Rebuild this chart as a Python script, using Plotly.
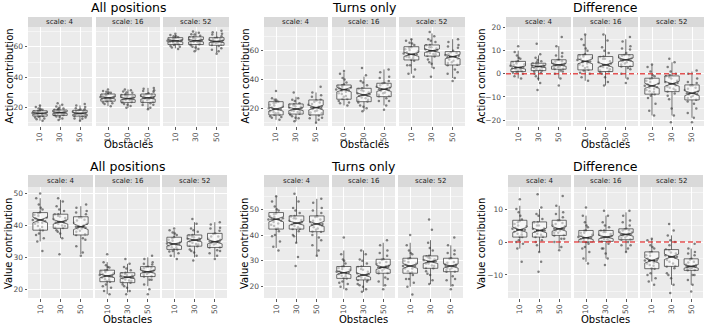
import plotly.graph_objects as go

# ---------------- data ----------------
obstacles = ["10", "30", "50"]
scale_labels = ["scale: 4", "scale: 16", "scale: 52"]
panel_titles = ["All positions", "Turns only", "Difference",
                "All positions", "Turns only", "Difference"]
y_titles = ["Action contribution"] * 3 + ["Value contribution"] * 3
x_title = "Obstacles"
n_runs = 100  # observations per box (for notch width)

# order of 9 boxes: scale 4 (10,30,50), scale 16 (10,30,50), scale 52 (10,30,50)
act_all_lo  = [11.5, 12, 11.5, 21, 20, 19, 59, 57, 56]
act_all_q1  = [14.5, 15, 14.5, 24.3, 23.5, 23.5, 61.5, 61.5, 61]
act_all_med = [16.3, 16.8, 16.3, 26.5, 26, 26.5, 63.9, 64, 63.5]
act_all_q3  = [18, 18.5, 18.3, 29, 28.5, 29, 66, 66.5, 66]
act_all_hi  = [21.5, 22, 21.5, 31, 32, 33, 68, 70, 70]

act_turn_lo  = [12, 11, 10, 22, 18, 22, 44, 48, 41]
act_turn_q1  = [15.4, 16, 15.4, 26.3, 24.6, 28.1, 53.6, 56.3, 50.1]
act_turn_med = [19.5, 19.5, 20.5, 33, 29.3, 33.2, 57.5, 60, 55.9]
act_turn_q3  = [24.6, 23, 25.8, 36.2, 33.9, 37.4, 62.8, 64, 59.4]
act_turn_hi  = [27, 28, 31, 45, 42, 47, 68, 72, 68]

act_diff_lo  = [-2, -3, -2, -3, -5, -2, -18, -18, -19]
act_diff_q1  = [1.0, 1.4, 2.0, 1.7, 1.0, 3.2, -8.8, -7.7, -11.3]
act_diff_med = [2.75, 3.2, 3.9, 5.4, 3.9, 6.1, -5.2, -4.3, -8.4]
act_diff_q3  = [5.4, 4.6, 6.1, 8.3, 7.5, 8.3, -1.9, -0.9, -4.8]
act_diff_hi  = [10, 8, 12, 17, 17, 15, 4, 5, 1]

val_all_lo  = [35, 36, 31, 18.5, 19, 21, 30, 30, 30]
val_all_q1  = [38.5, 39.1, 37, 22.4, 22.1, 24, 32.5, 33.5, 33.1]
val_all_med = [41.7, 41.1, 39.6, 24.2, 23.8, 25.5, 34.2, 35.4, 34.9]
val_all_q3  = [44, 43.5, 42.7, 26, 25.2, 27.1, 36.3, 37, 37.5]
val_all_hi  = [48.5, 48, 46, 28.5, 28, 30, 38.5, 41, 41]

val_turn_lo  = [35, 37, 32, 19, 18, 20, 20, 21, 20]
val_turn_q1  = [42.3, 42.3, 41.3, 23.2, 22.6, 25.2, 25.2, 27.1, 25.8]
val_turn_med = [46.1, 44.6, 44.3, 25.4, 24.5, 27.5, 28, 29.7, 28]
val_turn_q3  = [48.7, 47.4, 47.4, 27.8, 27.8, 30.6, 31, 31.9, 31]
val_turn_hi  = [55, 55, 54, 34, 34, 37, 37, 38, 36]

val_diff_lo  = [-2, -3, -2, -6, -5, -3, -12, -13, -13]
val_diff_q1  = [1.5, 1.5, 2.0, 0, 0.2, 0.7, -8.1, -7.4, -8.6]
val_diff_med = [3.7, 3.5, 4.0, 1.3, 1.5, 2.3, -5.6, -4.5, -7.4]
val_diff_q3  = [6.6, 6.1, 6.6, 3.5, 3.5, 4.0, -3, -2.3, -5.1]
val_diff_hi  = [11, 10, 11, 8, 8, 9, 1, 2, -2]

act_all_pts = [
    [11.5, 12.5, 13.5, 14, 14.8, 15.5, 16, 16.3, 16.8, 17.5, 18, 18.6, 19.5, 20.5, 21.5],
    [12, 13, 14.2, 15, 15.6, 16.2, 16.8, 17.2, 17.8, 18.3, 19, 19.8, 20.8, 22, 23],
    [11.5, 12.8, 13.6, 14.4, 15, 15.8, 16.3, 16.8, 17.4, 18, 18.8, 19.6, 20.5, 21.5, 22.5],
    [21, 22.5, 23.5, 24.3, 25, 25.8, 26.5, 27, 27.6, 28.3, 29, 29.8, 30.5, 31, 32],
    [20, 21.2, 22.5, 23.5, 24.3, 25.2, 26, 26.6, 27.3, 28, 28.8, 29.8, 30.6, 31.5, 32],
    [19, 20, 21.8, 23, 24, 25, 26.5, 27, 27.8, 28.5, 29.5, 30.5, 31.5, 32.5, 33],
    [58.5, 59.5, 60.5, 61.2, 62, 62.8, 63.5, 64, 64.5, 65, 65.6, 66.2, 67, 67.8, 68.5],
    [57, 58.5, 60, 61, 62, 63, 63.8, 64.3, 65, 65.8, 66.5, 67.3, 68.3, 69.3, 70],
    [55.5, 57, 59, 60.5, 61.5, 62.5, 63.3, 64, 64.6, 65.3, 66, 67, 68, 69.5, 70.5],
]
act_all_pts_extra = [
    [14.6, 15.2, 15.8, 16.5, 17, 17.3, 17.8, 15, 13, 19],
    [15.2, 15.8, 16.5, 17, 17.5, 18, 18.6, 14, 19.5, 16],
    [14.7, 15.3, 16, 16.6, 17.2, 17.8, 18.3, 13, 19, 15.5],
    [24.5, 25.3, 26, 26.8, 27.3, 28, 28.7, 23, 30, 25.5],
    [23.7, 24.6, 25.5, 26.3, 27, 27.7, 28.4, 22, 30, 25],
    [23.6, 24.5, 25.5, 26.2, 27.2, 28, 28.8, 22, 31, 26],
    [61.6, 62.3, 63, 63.7, 64.2, 64.8, 65.5, 60, 67, 63],
    [61.7, 62.5, 63.3, 64, 64.6, 65.3, 66.2, 59.5, 68, 63.5],
    [61.2, 62, 62.8, 63.6, 64.3, 65, 65.8, 58, 68.5, 63],
]
act_turn_pts = [
    [12, 13.5, 14.5, 15.5, 16.5, 17.5, 18.8, 19.5, 20.5, 22, 23.5, 24.5, 25.5, 27, 32],
    [11, 13, 14.5, 15.5, 16.5, 17.5, 18.5, 19.5, 20.5, 21.5, 22.5, 23.5, 25, 27, 31],
    [10, 12, 13.5, 15, 16.5, 18, 19.5, 20.5, 21.5, 23, 24.5, 26, 28, 31, 35],
    [22, 23.5, 25, 26.5, 28, 30, 32, 33, 34, 35, 36.5, 38, 41, 44, 46],
    [18, 20, 22, 24, 25.5, 27, 28.5, 29.3, 30.5, 32, 34, 36, 39, 43, 48],
    [19, 22, 25, 27, 28.5, 30.5, 32, 33.2, 34.5, 36, 37.5, 39, 42, 45, 47],
    [42, 44, 47, 50, 53, 55, 56.5, 57.5, 59, 61, 62.5, 64, 65.5, 67, 68],
    [42, 48, 51, 54, 56, 57.5, 59, 60, 61, 62.5, 64, 66, 68, 70, 73],
    [39, 41, 44, 47, 50, 52, 54, 55.9, 57, 58.5, 60, 62, 64, 66, 68],
]
act_turn_pts_extra = [
    [15.6, 16.8, 18, 19.2, 20, 21, 22.5, 24, 14, 26],
    [16.2, 17.2, 18.2, 19, 20, 21, 22, 22.8, 13.5, 26],
    [15.6, 17, 18.5, 20, 21, 22.5, 24, 25.5, 13, 29],
    [26.5, 28.5, 30.5, 31.5, 32.5, 34.5, 35.5, 36, 24, 40],
    [24.8, 26, 27.5, 28.5, 29.8, 31, 32.5, 33.5, 21, 38],
    [28.3, 29.5, 31, 32.5, 33.8, 35, 36.3, 37.2, 25, 41],
    [53.8, 55.5, 56, 57, 58, 59.5, 60.5, 62, 50, 65],
    [56.5, 57.8, 58.5, 59.5, 60.5, 61.5, 62.5, 63.8, 52, 67],
    [50.3, 51.5, 53, 54.5, 55.5, 56.5, 57.5, 59, 45, 63],
]
act_diff_pts = [
    [-2, -1, 0, 0.8, 1.5, 2, 2.5, 2.8, 3.5, 4.5, 5.5, 6.5, 8, 9.5, 12],
    [-7, -4, -2, 0, 1, 1.8, 2.5, 3.2, 3.8, 4.3, 5, 6, 7, 8.5, 13],
    [-5, -2, 0, 1.5, 2.2, 3, 3.5, 3.9, 4.5, 5.3, 6, 7.5, 9, 12, 16],
    [-3, -1.5, 0, 1.5, 2.5, 3.5, 4.5, 5.4, 6.5, 7.5, 8.5, 10, 12.5, 15, 17],
    [-5, -3.5, -1.5, 0.5, 1.5, 2.5, 3.2, 3.9, 5, 6.5, 7.5, 9, 11.5, 14.5, 17],
    [-4, -2, 0, 2, 3.2, 4.5, 5.5, 6.1, 7, 8, 9, 10.5, 12, 14, 16],
    [-18, -16, -13, -10.5, -8.8, -7.5, -6, -5.2, -4.2, -3, -2, -0.5, 1, 3, 4],
    [-21, -18, -15, -11, -8.5, -7, -5.5, -4.3, -3, -1.5, -0.5, 1, 3, 5, 6.5],
    [-21, -19, -17, -15, -12, -10.5, -9.5, -8.4, -7.5, -6, -5, -3.5, -2, 0, 1.5],
]
act_diff_pts_extra = [
    [1.2, 1.8, 2.3, 3, 3.8, 4.2, 5, 5.2, 0.5, 7],
    [1.5, 2, 2.8, 3, 3.5, 4, 4.5, 0.5, 5.5, -1],
    [2.1, 2.6, 3.2, 3.7, 4.2, 4.8, 5.5, 6, 1, 8],
    [1.8, 3, 4, 5, 6, 7, 8, 8.2, 0.5, 11],
    [1.1, 2, 3, 3.5, 4.5, 5.5, 6.5, 7.3, 0, 10],
    [3.3, 4, 5, 5.8, 6.5, 7.2, 7.8, 8.2, 2.5, 11],
    [-8.6, -7.8, -7, -6.5, -5.8, -4.5, -3.5, -2.2, -9.5, -1],
    [-7.6, -6.5, -6, -5, -4, -3.5, -2, -1, -9.5, 0],
    [-11.2, -10, -9, -8.8, -8, -7, -6.5, -5, -13, -4],
]
val_all_pts = [
    [32, 35, 36, 37.5, 38.5, 39.5, 40.5, 41.7, 42.5, 43.3, 44, 45, 46.5, 48.5, 50],
    [31, 36, 37.5, 38.5, 39.3, 40, 40.8, 41.1, 42, 42.8, 43.5, 44.5, 46, 47.5, 48.5],
    [30.5, 31.5, 33.5, 35.5, 37, 38, 39, 39.6, 40.5, 41.5, 42.5, 43.5, 44.5, 45.5, 46.5],
    [18.5, 19.5, 20.5, 21.5, 22.4, 23, 23.8, 24.2, 24.8, 25.4, 26, 26.8, 27.5, 28.5, 31],
    [18.5, 19.5, 20.5, 21.5, 22.1, 22.8, 23.4, 23.8, 24.3, 24.8, 25.2, 26, 27, 28, 29.5],
    [18.5, 20, 21.5, 23, 24, 24.6, 25.2, 25.5, 26, 26.6, 27.1, 27.8, 28.5, 29.5, 30.5],
    [29.5, 30.5, 31.3, 32, 32.5, 33.2, 33.8, 34.2, 34.8, 35.5, 36.3, 37, 37.8, 38.5, 39],
    [29, 30.5, 31.5, 32.5, 33.5, 34.2, 35, 35.4, 36, 36.5, 37, 38, 39, 40.5, 42],
    [29.5, 30.5, 31.3, 32.2, 33.1, 34, 34.5, 34.9, 35.5, 36.5, 37.5, 38.3, 39.3, 40.3, 41],
]
val_all_pts_extra = [
    [38.7, 39.8, 40.8, 41.3, 42.2, 43, 43.8, 37, 45.5, 41],
    [39.2, 39.8, 40.5, 41.5, 42.3, 43, 43.4, 38, 45, 41],
    [37.2, 38.3, 39.3, 40, 40.8, 41.8, 42.5, 36, 44, 39],
    [22.5, 23.2, 23.6, 24.5, 25, 25.6, 25.9, 21, 27, 24],
    [22.2, 22.6, 23.1, 23.6, 24, 24.5, 25, 21, 26.5, 23.8],
    [24.1, 24.8, 25.3, 25.8, 26.3, 26.8, 27, 23, 28, 25.5],
    [32.6, 33, 33.5, 34, 34.6, 35.2, 36, 31.8, 37.5, 34.3],
    [33.6, 34, 34.6, 35.2, 35.8, 36.3, 36.8, 32, 38.5, 35.5],
    [33.2, 33.8, 34.3, 35, 35.8, 36.5, 37.3, 32, 39, 35],
]
val_turn_pts = [
    [34, 35.5, 37.5, 39.5, 41.5, 42.5, 44, 45, 46.1, 47, 48, 49.5, 51, 53, 55],
    [28, 31.5, 37, 39.5, 41.5, 42.3, 43.5, 44.6, 45.5, 46.5, 47.4, 48.5, 50.5, 53, 56],
    [32, 34, 36, 38, 40, 41.3, 42.5, 43.5, 44.3, 45.5, 47, 48.5, 50.5, 52.5, 54],
    [19, 20, 21, 22, 23.2, 24, 24.8, 25.4, 26, 26.8, 27.8, 29, 30.5, 32.5, 39],
    [18, 19, 20, 21, 22, 22.6, 23.5, 24.5, 25.2, 26.5, 27.8, 29, 30.5, 32.5, 34],
    [19, 20.5, 22, 23.5, 25.2, 26, 27, 27.5, 28.2, 29.3, 30.6, 32, 34, 36, 38],
    [17, 20, 21.5, 23, 24.5, 25.5, 27, 28, 29, 30, 31, 32.5, 34, 36, 40],
    [21, 22.5, 24.5, 26, 27.1, 28, 29, 29.7, 30.5, 31.3, 32, 34, 37, 42, 46],
    [19, 20.5, 22.5, 24, 25.8, 26.5, 27.2, 28, 28.8, 29.5, 31, 32.5, 34, 36, 39],
]
val_turn_pts_extra = [
    [42.4, 43.5, 44.5, 45.5, 46.5, 47.3, 48.3, 40, 50, 46],
    [42.4, 43, 44, 45, 45.8, 46.4, 47.2, 40, 49.5, 44.6],
    [41.4, 42, 43, 44, 45, 46, 47.2, 39, 49.5, 44],
    [23.3, 24.2, 25, 25.8, 26.5, 27.2, 27.7, 21.5, 30, 25.4],
    [22.7, 23.2, 24, 24.8, 25.8, 26.8, 27.6, 20.5, 30, 24.5],
    [25.3, 26.3, 27.2, 28, 28.8, 29.5, 30.4, 23, 33, 27.5],
    [25.3, 26, 27, 28, 28.5, 29.5, 30.8, 23, 33, 28],
    [27.2, 28.2, 29, 29.8, 30.3, 31, 31.8, 25, 35, 29.7],
    [25.9, 26.6, 27.3, 28, 28.6, 29.3, 30.8, 23, 33, 28],
]
val_diff_pts = [
    [-6, -2, -0.5, 0.5, 1.5, 2.3, 3, 3.7, 4.3, 5, 6, 6.8, 8, 10, 13],
    [-9, -6, -3, -1, 0.5, 1.5, 2.5, 3.5, 4, 5, 6, 7, 8.5, 10.5, 14.5],
    [-2.5, -1.5, 0, 1, 2, 2.8, 3.5, 4, 4.8, 5.5, 6.5, 7.5, 9, 11, 14],
    [-6.5, -5, -3, -1.5, -0.5, 0, 0.8, 1.3, 2, 2.8, 3.5, 4.5, 6, 8, 10.5],
    [-7, -5, -3.5, -2, -0.5, 0.2, 0.9, 1.5, 2.2, 3, 3.5, 4.5, 6, 8, 9.5],
    [-3, -2, -1, 0, 0.7, 1.3, 1.9, 2.3, 3, 3.5, 4, 5, 6.5, 8, 9.5],
    [-13, -12, -11, -9.5, -8.1, -7, -6.2, -5.6, -5, -4, -3, -2, -1, 0.5, 1],
    [-15.5, -13, -11, -9.5, -8, -7.4, -6, -4.5, -3.5, -2.3, -1, 0.5, 2, 3.5, 5.5],
    [-15, -13, -11.5, -10, -8.6, -8, -7.6, -7.4, -7, -6.2, -5.1, -4, -3, -2, -0.5],
]
val_diff_pts_extra = [
    [1.6, 2.5, 3.2, 4, 4.8, 5.5, 6.4, 0, 9, 3.7],
    [1.6, 2.2, 3, 3.5, 4.2, 5, 5.9, 0, 8, 3.5],
    [2.1, 2.8, 3.5, 4.2, 5, 5.8, 6.5, 1, 8.5, 4],
    [0.1, 0.6, 1, 1.5, 2.2, 2.8, 3.4, -2, 5, 1.3],
    [0.3, 0.8, 1.3, 1.8, 2.4, 3, 3.4, -2, 5, 1.5],
    [0.8, 1.4, 2, 2.6, 3.1, 3.6, 3.9, -1, 6, 2.3],
    [-8, -7.2, -6.5, -5.8, -5, -4.2, -3.2, -10, -1.5, -5.6],
    [-7.3, -6.5, -5.5, -4.8, -4, -3.2, -2.5, -10, 0, -4.5],
    [-8.5, -8.2, -7.8, -7.3, -6.8, -6, -5.3, -10, -3.5, -7.4],
]

panels = [
    (act_all_lo, act_all_q1, act_all_med, act_all_q3, act_all_hi, act_all_pts, act_all_pts_extra),
    (act_turn_lo, act_turn_q1, act_turn_med, act_turn_q3, act_turn_hi, act_turn_pts, act_turn_pts_extra),
    (act_diff_lo, act_diff_q1, act_diff_med, act_diff_q3, act_diff_hi, act_diff_pts, act_diff_pts_extra),
    (val_all_lo, val_all_q1, val_all_med, val_all_q3, val_all_hi, val_all_pts, val_all_pts_extra),
    (val_turn_lo, val_turn_q1, val_turn_med, val_turn_q3, val_turn_hi, val_turn_pts, val_turn_pts_extra),
    (val_diff_lo, val_diff_q1, val_diff_med, val_diff_q3, val_diff_hi, val_diff_pts, val_diff_pts_extra),
]
is_difference = [False, False, True, False, False, True]

# ---------------- layout geometry (pixels) / style ----------------
W, H = 708, 327
facet_px = [
    [(28, 92), (96, 160), (163, 229)],
    [(264, 328), (332, 396), (399, 465)],
    [(506, 571), (573, 638), (640, 704)],
    [(28, 93), (95, 160), (162, 227)],
    [(264, 329), (332, 395), (398, 463)],
    [(508, 571), (574, 638), (640, 703)],
]
row_panel_y = [(27, 126), (187, 298)]
row_strip_y = [(17, 27), (175, 187)]
row_title_y = [7.5, 166]
row_xtitle_y = [145, 319]
row_ytitle_y = [76.5, 244]
ytitle_x = [[9, 245, 481], [8, 244, 481]]
y_ranges = [[8, 73], [7.7, 76.5], [-22.6, 20.3], [17.3, 52], [15.6, 58.6], [-17, 16.7]]
y_dtick = [20, 20, 10, 10, 10, 10]
BOX_W = 0.72
NOTCH_W = 0.5

FONT = "DejaVu Sans"
fig = go.Figure()
shapes, annotations = [], []
layout_axes = {}

def px_x(v):
    return v / W

def px_y(v):
    return 1 - v / H

for p in range(6):
    r = p // 3
    c = p % 3
    lo, q1, med, q3, hi, pts, pts_extra = panels[p]
    y0p, y1p = row_panel_y[r]
    for f in range(3):
        idx = p * 3 + f + 1
        xs = "x" if idx == 1 else f"x{idx}"
        ys = "y" if idx == 1 else f"y{idx}"
        xa = "xaxis" if idx == 1 else f"xaxis{idx}"
        ya = "yaxis" if idx == 1 else f"yaxis{idx}"
        x0, x1 = facet_px[p][f]
        sel = slice(f * 3, f * 3 + 3)
        # jittered points
        px_list, py_list = [], []
        for k in range(3):
            vals = pts[f * 3 + k] + pts_extra[f * 3 + k]
            px_list += [k + 1] * len(vals)
            py_list += vals
        fig.add_trace(go.Box(
            x=px_list, y=py_list, xaxis=xs, yaxis=ys,
            boxpoints="all", jitter=1, pointpos=0, width=0.8,
            line=dict(width=0, color="rgba(0,0,0,0)"),
            fillcolor="rgba(0,0,0,0)",
            marker=dict(size=2.5, color="rgba(35,35,35,0.55)", line=dict(width=0)),
            hoverinfo="skip", showlegend=False))
        # box summary
        b_q1, b_q3 = q1[sel], q3[sel]
        notch = [1.58 * (b - a) / n_runs ** 0.5 for a, b in zip(b_q1, b_q3)]
        fig.add_trace(go.Box(
            x=[1, 2, 3], q1=b_q1, median=med[sel], q3=b_q3,
            lowerfence=lo[sel], upperfence=hi[sel],
            notched=True, notchspan=notch, notchwidth=NOTCH_W,
            width=BOX_W, whiskerwidth=0, boxpoints=False,
            fillcolor="rgba(255,255,255,0.5)",
            line=dict(color="#333333", width=0.7),
            xaxis=xs, yaxis=ys, hoverinfo="skip", showlegend=False))
        # bold median (ggplot fatten)
        half = BOX_W * (1 - NOTCH_W) / 2
        mx, my = [], []
        for k, m in enumerate(med[sel]):
            mx += [k + 1 - half, k + 1 + half, None]
            my += [m, m, None]
        fig.add_trace(go.Scatter(
            x=mx, y=my, mode="lines", line=dict(color="#333333", width=1.4),
            xaxis=xs, yaxis=ys, hoverinfo="skip", showlegend=False))

        layout_axes[xa] = dict(
            domain=[px_x(x0), px_x(x1)], anchor=ys, range=[0.4, 3.6],
            tickvals=[1, 2, 3], ticktext=obstacles, tickangle=-90,
            ticks="outside", ticklen=2.5, tickwidth=0.8, tickcolor="#333333",
            tickfont=dict(family=FONT, size=7.5, color="#4D4D4D"),
            showgrid=True, gridcolor="white", gridwidth=1,
            zeroline=False, showline=False, automargin=False, fixedrange=True)
        layout_axes[ya] = dict(
            domain=[px_y(y1p), px_y(y0p)], anchor=xs, range=y_ranges[p],
            tick0=0, dtick=y_dtick[p],
            ticks="outside" if f == 0 else "", ticklen=2.5, tickwidth=0.8,
            tickcolor="#333333", showticklabels=(f == 0),
            tickfont=dict(family=FONT, size=7.5, color="#4D4D4D"),
            showgrid=True, gridcolor="white", gridwidth=1,
            minor=dict(dtick=y_dtick[p] / 2, showgrid=True, gridcolor="white",
                       gridwidth=0.5, ticks=""),
            zeroline=False, showline=False, automargin=False, fixedrange=True)

        # strip
        s0, s1 = row_strip_y[r]
        shapes.append(dict(type="rect", xref="paper", yref="paper",
                           x0=px_x(x0), x1=px_x(x1), y0=px_y(s1), y1=px_y(s0),
                           fillcolor="#D9D9D9", line=dict(width=0), layer="below"))
        annotations.append(dict(text=scale_labels[f], xref="paper", yref="paper",
                                x=px_x((x0 + x1) / 2), y=px_y((s0 + s1) / 2),
                                showarrow=False, xanchor="center", yanchor="middle",
                                font=dict(family=FONT, size=7, color="#1A1A1A")))
        if is_difference[p]:
            shapes.append(dict(type="line", xref=f"{xs} domain", yref=ys,
                               x0=0, x1=1, y0=0, y1=0,
                               line=dict(color="rgba(222,40,40,0.8)", width=1.5,
                                         dash="5px,3px"),
                               layer="above"))

    # panel title, axis titles
    xl = facet_px[p][0][0]
    xr = facet_px[p][2][1]
    annotations.append(dict(text=panel_titles[p], xref="paper", yref="paper",
                            x=px_x((xl + xr) / 2), y=px_y(row_title_y[r]),
                            showarrow=False, xanchor="center", yanchor="middle",
                            font=dict(family=FONT, size=12.5, color="black")))
    annotations.append(dict(text=x_title, xref="paper", yref="paper",
                            x=px_x((xl + xr) / 2), y=px_y(row_xtitle_y[r]),
                            showarrow=False, xanchor="center", yanchor="middle",
                            font=dict(family=FONT, size=10, color="black")))
    annotations.append(dict(text=y_titles[p], xref="paper", yref="paper",
                            x=px_x(ytitle_x[r][c]), y=px_y(row_ytitle_y[r]),
                            showarrow=False, xanchor="center", yanchor="middle",
                            textangle=-90,
                            font=dict(family=FONT, size=10, color="black")))

fig.update_layout(
    width=W, height=H, margin=dict(l=0, r=0, t=0, b=0),
    paper_bgcolor="white", plot_bgcolor="#EBEBEB",
    boxmode="overlay", showlegend=False,
    shapes=shapes, annotations=annotations, **layout_axes)

fig.write_html("out.html",
               config={"displayModeBar": False, "staticPlot": True},
               post_script="document.body.style.margin='0px';"
                           "document.body.style.overflow='hidden';")
